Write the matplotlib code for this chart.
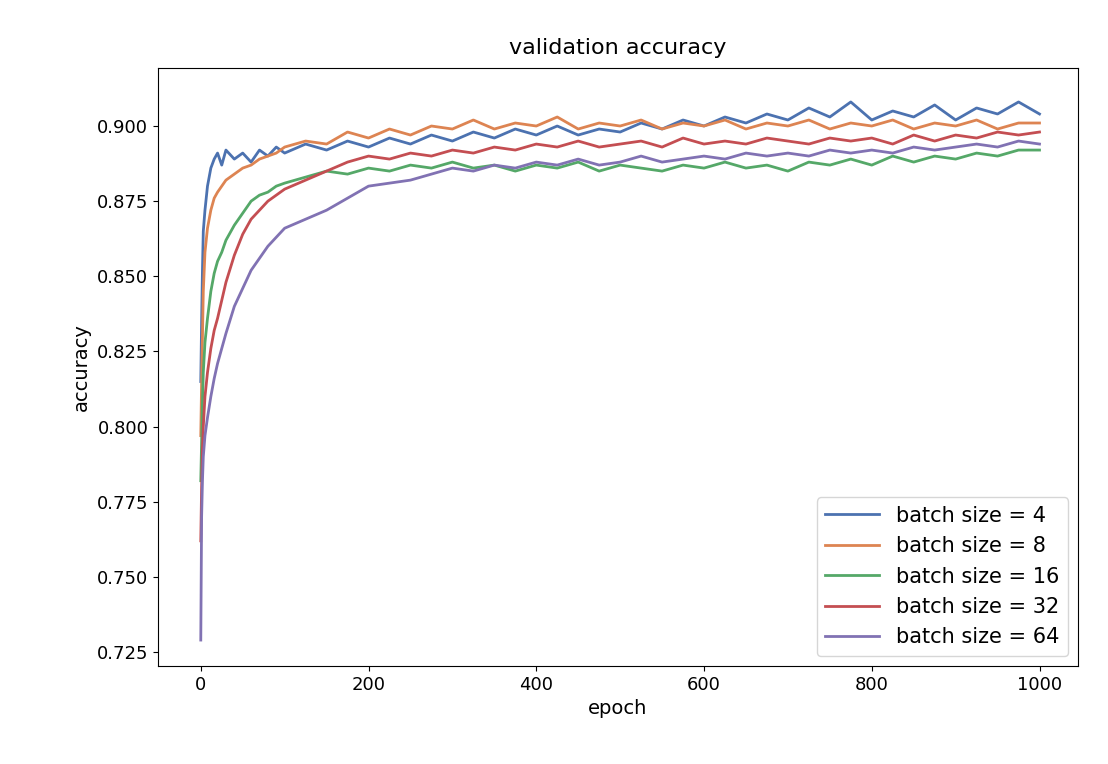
import matplotlib
matplotlib.use("Agg")
import matplotlib.pyplot as plt

epochs = [0, 1, 2, 3, 5, 8, 12, 16, 20, 25, 30, 40, 50, 60, 70, 80, 90, 100,
          125, 150, 175, 200, 225, 250, 275, 300, 325, 350, 375, 400, 425, 450,
          475, 500, 525, 550, 575, 600, 625, 650, 675, 700, 725, 750, 775, 800,
          825, 850, 875, 900, 925, 950, 975, 1000]

acc_bs4 = [0.815, 0.835, 0.852, 0.865, 0.872, 0.880, 0.886, 0.889, 0.891, 0.887, 0.892,
           0.889, 0.891, 0.888, 0.892, 0.890, 0.893, 0.891, 0.894, 0.892, 0.895, 0.893,
           0.896, 0.894, 0.897, 0.895, 0.898, 0.896, 0.899, 0.897, 0.900, 0.897, 0.899,
           0.898, 0.901, 0.899, 0.902, 0.900, 0.903, 0.901, 0.904, 0.902, 0.906, 0.903,
           0.908, 0.902, 0.905, 0.903, 0.907, 0.902, 0.906, 0.904, 0.908, 0.904]
acc_bs8 = [0.797, 0.815, 0.830, 0.845, 0.858, 0.866, 0.872, 0.876, 0.878, 0.880, 0.882,
           0.884, 0.886, 0.887, 0.889, 0.890, 0.891, 0.893, 0.895, 0.894, 0.898, 0.896,
           0.899, 0.897, 0.900, 0.899, 0.902, 0.899, 0.901, 0.900, 0.903, 0.899, 0.901,
           0.900, 0.902, 0.899, 0.901, 0.900, 0.902, 0.899, 0.901, 0.900, 0.902, 0.899,
           0.901, 0.900, 0.902, 0.899, 0.901, 0.900, 0.902, 0.899, 0.901, 0.901]
acc_bs16 = [0.782, 0.795, 0.808, 0.818, 0.828, 0.836, 0.845, 0.851, 0.855, 0.858, 0.862,
            0.867, 0.871, 0.875, 0.877, 0.878, 0.880, 0.881, 0.883, 0.885, 0.884, 0.886,
            0.885, 0.887, 0.886, 0.888, 0.886, 0.887, 0.885, 0.887, 0.886, 0.888, 0.885,
            0.887, 0.886, 0.885, 0.887, 0.886, 0.888, 0.886, 0.887, 0.885, 0.888, 0.887,
            0.889, 0.887, 0.890, 0.888, 0.890, 0.889, 0.891, 0.890, 0.892, 0.892]
acc_bs32 = [0.762, 0.780, 0.793, 0.800, 0.810, 0.818, 0.826, 0.832, 0.836, 0.842, 0.848,
            0.857, 0.864, 0.869, 0.872, 0.875, 0.877, 0.879, 0.882, 0.885, 0.888, 0.890,
            0.889, 0.891, 0.890, 0.892, 0.891, 0.893, 0.892, 0.894, 0.893, 0.895, 0.893,
            0.894, 0.895, 0.893, 0.896, 0.894, 0.895, 0.894, 0.896, 0.895, 0.894, 0.896,
            0.895, 0.896, 0.894, 0.897, 0.895, 0.897, 0.896, 0.898, 0.897, 0.898]
acc_bs64 = [0.729, 0.770, 0.782, 0.790, 0.797, 0.803, 0.810, 0.816, 0.821, 0.826, 0.831,
            0.840, 0.846, 0.852, 0.856, 0.860, 0.863, 0.866, 0.869, 0.872, 0.876, 0.880,
            0.881, 0.882, 0.884, 0.886, 0.885, 0.887, 0.886, 0.888, 0.887, 0.889, 0.887,
            0.888, 0.890, 0.888, 0.889, 0.890, 0.889, 0.891, 0.890, 0.891, 0.890, 0.892,
            0.891, 0.892, 0.891, 0.893, 0.892, 0.893, 0.894, 0.893, 0.895, 0.894]

series = [("batch size = 4", acc_bs4, "#4C72B0"),
          ("batch size = 8", acc_bs8, "#DD8452"),
          ("batch size = 16", acc_bs16, "#55A868"),
          ("batch size = 32", acc_bs32, "#C44E52"),
          ("batch size = 64", acc_bs64, "#8172B3")]

plt.rcParams["font.size"] = 13
fig = plt.figure(figsize=(11.08, 7.64), dpi=100)
ax = fig.add_axes([0.1426, 0.128, 0.8304, 0.783])

for label, values, color in series:
    ax.plot(epochs, values, color=color, linewidth=2.0, label=label)

ax.set_xlim(-51, 1046)
ax.set_ylim(0.7203, 0.9193)
ax.set_xticks([0, 200, 400, 600, 800, 1000])
ax.set_yticks([0.725, 0.750, 0.775, 0.800, 0.825, 0.850, 0.875, 0.900])
ax.set_title("validation accuracy", fontsize=16, pad=10)
ax.set_xlabel("epoch", fontsize=14)
ax.set_ylabel("accuracy", fontsize=14)
ax.legend(loc="lower right", fontsize=15, handlelength=2.6)

fig.savefig("out.png", dpi=100)
